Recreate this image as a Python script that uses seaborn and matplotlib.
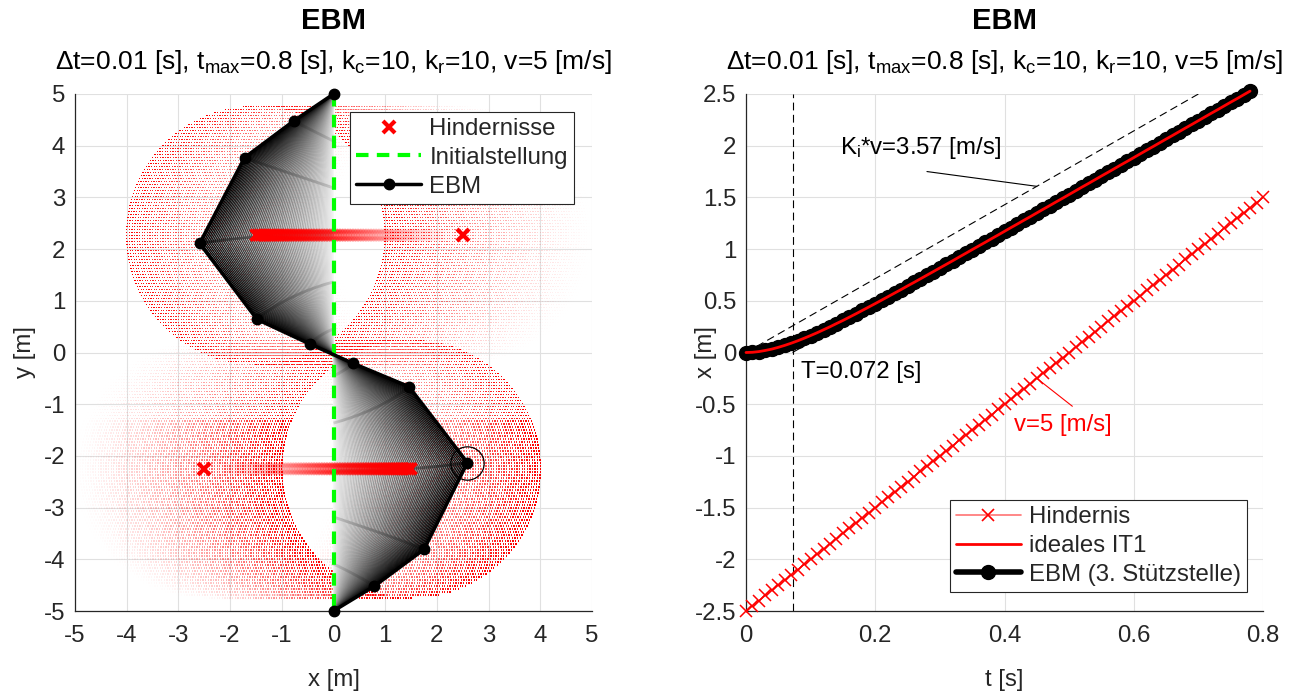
import numpy as np
import matplotlib
matplotlib.use("Agg")
import matplotlib.pyplot as plt
import seaborn as sns
from matplotlib.lines import Line2D
from matplotlib.collections import LineCollection
from matplotlib.ticker import FuncFormatter

# ---------------- data ----------------
# final EBM chain (left panel)
node_x = [0.0, -0.77, -1.72, -2.59, -1.48, -0.45, 0.38, 1.46, 2.59, 1.75, 0.79, 0.0]
node_y = [5.0, 4.48, 3.77, 2.11, 0.64, 0.16, -0.21, -0.66, -2.13, -3.81, -4.52, -5.0]
# initial configuration (Initialstellung)
init_x = [0.0] * 12
init_y = [5.0, 4.091, 3.182, 2.273, 1.364, 0.455, -0.455, -1.364, -2.273, -3.182, -4.091, -5.0]
tracked_node = 8  # 3. Stützstelle (circled)

# time grid and obstacle path
time = [0.00, 0.01, 0.02, 0.03, 0.04, 0.05, 0.06, 0.07, 0.08, 0.09,
        0.10, 0.11, 0.12, 0.13, 0.14, 0.15, 0.16, 0.17, 0.18, 0.19,
        0.20, 0.21, 0.22, 0.23, 0.24, 0.25, 0.26, 0.27, 0.28, 0.29,
        0.30, 0.31, 0.32, 0.33, 0.34, 0.35, 0.36, 0.37, 0.38, 0.39,
        0.40, 0.41, 0.42, 0.43, 0.44, 0.45, 0.46, 0.47, 0.48, 0.49,
        0.50, 0.51, 0.52, 0.53, 0.54, 0.55, 0.56, 0.57, 0.58, 0.59,
        0.60, 0.61, 0.62, 0.63, 0.64, 0.65, 0.66, 0.67, 0.68, 0.69,
        0.70, 0.71, 0.72, 0.73, 0.74, 0.75, 0.76, 0.77, 0.78, 0.79, 0.80]
obst_path = [-2.50, -2.45, -2.40, -2.35, -2.30, -2.25, -2.20, -2.15, -2.10, -2.05,
             -2.00, -1.95, -1.90, -1.85, -1.80, -1.75, -1.70, -1.65, -1.60, -1.55,
             -1.50, -1.45, -1.40, -1.35, -1.30, -1.25, -1.20, -1.15, -1.10, -1.05,
             -1.00, -0.95, -0.90, -0.85, -0.80, -0.75, -0.70, -0.65, -0.60, -0.55,
             -0.50, -0.45, -0.40, -0.35, -0.30, -0.25, -0.20, -0.15, -0.10, -0.05,
             0.00, 0.05, 0.10, 0.15, 0.20, 0.25, 0.30, 0.35, 0.40, 0.45,
             0.50, 0.55, 0.60, 0.65, 0.70, 0.75, 0.80, 0.85, 0.90, 0.95,
             1.00, 1.05, 1.10, 1.15, 1.20, 1.25, 1.30, 1.35, 1.40, 1.45, 1.50]
upper_obst_y = 2.27
lower_obst_y = -2.25
obst_radius = 2.5

# x of the 3rd node over time (EBM) / ideal IT1
ebm_x = [0.000, 0.002, 0.009, 0.020, 0.033, 0.050, 0.069, 0.090, 0.113, 0.138,
         0.164, 0.191, 0.220, 0.249, 0.280, 0.310, 0.342, 0.374, 0.407, 0.440,
         0.473, 0.507, 0.541, 0.575, 0.609, 0.644, 0.678, 0.713, 0.748, 0.783,
         0.818, 0.853, 0.888, 0.924, 0.959, 0.995, 1.030, 1.065, 1.101, 1.136,
         1.172, 1.208, 1.243, 1.279, 1.314, 1.350, 1.386, 1.421, 1.457, 1.492,
         1.528, 1.564, 1.600, 1.635, 1.671, 1.707, 1.742, 1.778, 1.814, 1.849,
         1.885, 1.921, 1.957, 1.992, 2.028, 2.064, 2.099, 2.135, 2.171, 2.206,
         2.242, 2.278, 2.314, 2.349, 2.385, 2.421, 2.456, 2.492, 2.528]
ebm_t = time[:len(ebm_x)]
T_const = 0.072
kv_t = [0.0, 0.70]          # K_i*v*t
kv_x = [0.0, 2.5]
asym_t = [0.072, 0.772]     # K_i*v*(t-T)
asym_x = [0.0, 2.5]

# ---------------- style ----------------
sns.set_theme(style="white")
plt.rcParams["font.family"] = ["Liberation Sans", "DejaVu Sans"]
plt.rcParams["mathtext.fontset"] = "custom"
plt.rcParams["mathtext.rm"] = "Liberation Sans"
plt.rcParams["mathtext.it"] = "Liberation Sans:italic"
plt.rcParams["axes.unicode_minus"] = False

FS = 17.3
TFS = 19.0
DARK = (0.15, 0.15, 0.15)

fig = plt.figure(figsize=(13.02, 6.93), dpi=100)
W, H = 1302, 693
ax1 = fig.add_axes([75 / W, 82 / H, 517 / W, 517 / H])
ax2 = fig.add_axes([746 / W, 82 / H, 517 / W, 517 / H])

fmt = FuncFormatter(lambda v, p: f"{v:g}")


def style(ax):
    ax.set_facecolor("white")
    ax.grid(True, color=(0.88, 0.88, 0.88), lw=0.8)
    ax.set_axisbelow(True)
    for s in ["top", "right"]:
        ax.spines[s].set_visible(False)
    for s in ["left", "bottom"]:
        ax.spines[s].set_color(DARK)
        ax.spines[s].set_linewidth(0.9)
    ax.tick_params(direction="in", length=5, width=0.8, colors=DARK,
                   labelsize=FS, top=False, right=False)
    ax.tick_params(axis="x", pad=10)
    ax.tick_params(axis="y", pad=7)
    ax.xaxis.set_major_formatter(fmt)
    ax.yaxis.set_major_formatter(fmt)


# ---------------- left panel ----------------
style(ax1)
ax1.set_xlim(-5, 5)
ax1.set_ylim(-5, 5)
ax1.set_xticks(range(-5, 6))
ax1.set_yticks(range(-5, 6))

n_steps = len(time)
# red circle traces of the moving obstacles
rows = np.arange(-obst_radius, obst_radius + 1e-9, 0.058)
half = np.sqrt(np.clip(obst_radius ** 2 - rows ** 2, 0, None))
px, py, pa = [], [], []
for k in range(n_steps):
    a = ((k + 1) / n_steps) ** 1.4
    for cx, cy in [(-obst_path[k], upper_obst_y), (obst_path[k], lower_obst_y)]:
        px += list(cx - half) + list(cx + half)
        py += list(cy + rows) * 2
        pa += [a] * (2 * len(rows))
cols = np.zeros((len(px), 4))
cols[:, 0] = 1.0
cols[:, 3] = pa
ax1.scatter(px, py, s=0.9, c=cols, marker="s", linewidths=0, zorder=1)

# gray fan: history of chain configurations
P0 = np.column_stack([init_x, init_y])
Pf = np.column_stack([node_x, node_y])
d0 = np.diff(P0, axis=0)
dfin = np.diff(Pf, axis=0)
th0 = np.arctan2(d0[:, 1], d0[:, 0])
thf = np.arctan2(dfin[:, 1], dfin[:, 0])
L0 = np.hypot(d0[:, 0], d0[:, 1])
Lf = np.hypot(dfin[:, 0], dfin[:, 1])
prog = np.array(ebm_x) / ebm_x[-1]
segs, fcols = [], []
nn = len(node_x)
for k, s in enumerate(prog):
    th = th0 + s * (thf - th0)
    L = L0 + s * (Lf - L0)
    d = np.column_stack([L * np.cos(th), L * np.sin(th)])
    P = np.vstack([P0[0], P0[0] + np.cumsum(d, axis=0)])
    err = P[-1] - Pf[-1]
    P = P - np.outer(np.linspace(0, 1, nn), err)
    segs.append(P)
    g = 1 - k / (len(prog) - 1)
    fcols.append((g, g, g))
ax1.add_collection(LineCollection(segs, colors=fcols, linewidths=1.0, zorder=2))

# node trails (darker arcs inside the fan)
conf = np.array(segs)
trail_segs, trail_cols = [], []
for j in range(1, nn - 1):
    for k in range(len(prog) - 1):
        trail_segs.append([conf[k, j], conf[k + 1, j]])
        g = 0.75 * (1 - k / (len(prog) - 1))
        trail_cols.append((g, g, g))
ax1.add_collection(LineCollection(trail_segs, colors=trail_cols, linewidths=2.0,
                                  alpha=0.7, zorder=2.5))

# obstacle trails
tcols = np.zeros((n_steps, 4))
tcols[:, 0] = 1.0
tcols[:, 3] = [((k + 1) / n_steps) ** 2 for k in range(n_steps)]
ax1.scatter([-v for v in obst_path], [upper_obst_y] * n_steps, marker="x", s=64,
            c=tcols, linewidths=2.5, zorder=3)
ax1.scatter(obst_path, [lower_obst_y] * n_steps, marker="x", s=64,
            c=tcols, linewidths=2.5, zorder=3)
ax1.plot([-obst_path[0], obst_path[0]], [upper_obst_y, lower_obst_y], "x",
         color="red", ms=8, mew=3, zorder=6)

# initial position and final chain
sns.lineplot(x=init_x, y=init_y, ax=ax1, color=(0, 1, 0), lw=3, sort=False,
             estimator=None, legend=False, zorder=4)
ax1.lines[-1].set_linestyle((0, (3, 2)))
ax1.lines[-1].set_clip_on(False)
ax1.plot(node_x, node_y, "-o", color="black", lw=2.5, ms=7.5, zorder=5, clip_on=False)
ax1.plot(node_x[tracked_node], node_y[tracked_node], "o", mfc="none", mec="black",
         ms=24, mew=0.9, zorder=6)

ax1.set_xlabel("x [m]", fontsize=FS, color=DARK)
ax1.set_ylabel("y [m]", fontsize=FS, color=DARK)
ax1.xaxis.set_label_coords(0.5, (611 - 680) / 517)
ax1.yaxis.set_label_coords((25 - 75) / 517, 0.5)

h1 = [Line2D([], [], ls="none", marker="x", color="red", ms=8, mew=3),
      Line2D([], [], color=(0, 1, 0), lw=3, ls=(0, (3, 2))),
      Line2D([], [], color="black", lw=2.5, marker="o", ms=7.5)]
leg1 = ax1.legend(h1, ["Hindernisse", "Initialstellung", "EBM"], loc="upper right",
                  bbox_to_anchor=(0.965, 0.965), borderaxespad=0, fontsize=FS,
                  frameon=True, fancybox=False, edgecolor=DARK, framealpha=1,
                  handlelength=2.7, labelspacing=0.28, borderpad=0.25,
                  handletextpad=0.35)
leg1.get_frame().set_linewidth(0.8)
leg1.set_zorder(10)

# ---------------- right panel ----------------
style(ax2)
ax2.set_xlim(0, 0.8)
ax2.set_ylim(-2.5, 2.5)
ax2.set_xticks([0, 0.2, 0.4, 0.6, 0.8])
ax2.set_yticks([-2.5, -2, -1.5, -1, -0.5, 0, 0.5, 1, 1.5, 2, 2.5])

ax2.plot(kv_t, kv_x, color="black", lw=0.8, ls=(0, (7, 4)), zorder=2)
ax2.plot(asym_t, asym_x, color="black", lw=0.8, ls=(0, (7, 4)), zorder=2)
ax2.plot([T_const, T_const], [-2.5, 2.5], color="black", lw=0.8, ls=(0, (7, 4)), zorder=2)

sns.lineplot(x=time, y=obst_path, ax=ax2, color=(1, 0.35, 0.35), lw=1, marker="x",
             markersize=8.5, markeredgecolor="red", markeredgewidth=1.1,
             estimator=None, legend=False, zorder=3)
ax2.lines[-1].set_clip_on(False)
ax2.plot(ebm_t, ebm_x, "-o", color="black", lw=3, ms=10, zorder=4, clip_on=False)
sns.lineplot(x=ebm_t, y=ebm_x, ax=ax2, color="red", lw=2, estimator=None,
             legend=False, zorder=5)
ax2.lines[-1].set_clip_on(False)

ax2.text(0.145, 1.98, r"K$_\mathregular{i}$*v=3.57 [m/s]", fontsize=FS, color="black",
         va="center", ha="left", zorder=6)
ax2.plot([0.28, 0.45], [1.75, 1.607], color="black", lw=0.8, zorder=6)
ax2.text(0.085, -0.19, "T=0.072 [s]", fontsize=FS, color="black", va="center",
         ha="left", zorder=6)
ax2.text(0.414, -0.70, "v=5 [m/s]", fontsize=FS, color="red", va="center",
         ha="left", zorder=6)
ax2.plot([0.45, 0.505], [-0.25, -0.52], color="red", lw=0.8, zorder=6)

ax2.set_xlabel("t [s]", fontsize=FS, color=DARK)
ax2.set_ylabel("x [m]", fontsize=FS, color=DARK)
ax2.xaxis.set_label_coords(0.5, (611 - 680) / 517)
ax2.yaxis.set_label_coords((706 - 746) / 517, 0.5)
for ax in (ax1, ax2):
    ax.xaxis.label.set_verticalalignment("center")
    ax.yaxis.label.set_verticalalignment("center")

h2 = [Line2D([], [], color=(1, 0.45, 0.45), lw=1.2, marker="x", ms=9, mec="red", mew=1.2),
      Line2D([], [], color="red", lw=2),
      Line2D([], [], color="black", lw=4, marker="o", ms=10)]
leg2 = ax2.legend(h2, ["Hindernis", "ideales IT1", "EBM (3. Stützstelle)"],
                  loc="lower right", bbox_to_anchor=(0.969, 0.037), borderaxespad=0,
                  fontsize=FS, frameon=True, fancybox=False, edgecolor=DARK,
                  framealpha=1, handlelength=2.7, labelspacing=0.28, borderpad=0.25,
                  handletextpad=0.35)
leg2.get_frame().set_linewidth(0.8)

# titles
sub = (r"Δt=0.01 [s], t$_\mathregular{max}$=0.8 [s], k$_\mathregular{c}$=10, "
       r"k$_\mathregular{r}$=10, v=5 [m/s]")
for ax in (ax1, ax2):
    ax.text(0.5, (611 - 21) / 517, "EBM", transform=ax.transAxes, ha="center",
            va="center", fontsize=21, fontweight="bold", color="black")
    ax.text(0.5, (611 - 62) / 517, sub, transform=ax.transAxes, ha="center",
            va="center", fontsize=TFS, color="black")

fig.savefig("out.png", dpi=100, facecolor="white")
